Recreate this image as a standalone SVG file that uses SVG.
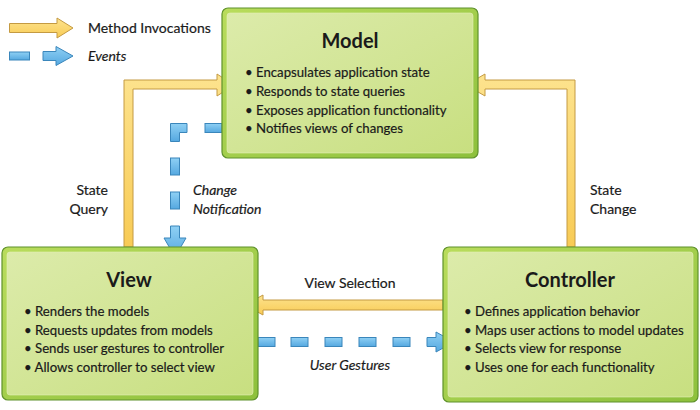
<svg xmlns="http://www.w3.org/2000/svg" width="700" height="410" viewBox="0 0 700 410">
<defs>
<linearGradient id="outerG" x1="0" y1="0" x2="1" y2="1">
<stop offset="0" stop-color="#b9dc5c"/>
<stop offset="1" stop-color="#8dc03c"/>
</linearGradient>
<linearGradient id="innerG" x1="0" y1="0" x2="1" y2="1">
<stop offset="0" stop-color="#dcebaa"/>
<stop offset="0.5" stop-color="#d2e596"/>
<stop offset="1" stop-color="#c8df80"/>
</linearGradient>
<linearGradient id="yel" x1="0" y1="0" x2="0" y2="1">
<stop offset="0" stop-color="#fde38e"/>
<stop offset="1" stop-color="#f8cb55"/>
</linearGradient>
<linearGradient id="blu" x1="0" y1="0" x2="0" y2="1">
<stop offset="0" stop-color="#8fd0f4"/>
<stop offset="1" stop-color="#55a8e0"/>
</linearGradient>
</defs>
<style>
.outer{fill:url(#outerG);stroke:#5f922c;stroke-width:1.2}
.inner{fill:url(#innerG);stroke:#e4f0b8;stroke-width:1;stroke-opacity:0.6}
.title{font-family:Lato,"Open Sans",sans-serif;font-weight:bold;font-size:20px;fill:#1a1a1a;text-anchor:middle}
.body{font-family:Lato,"Open Sans",sans-serif;font-size:13.2px;fill:#1a1a1a;stroke:#1a1a1a;stroke-width:0.2}
.lbl{font-family:Lato,"Open Sans",sans-serif;font-size:14px;fill:#1a1a1a;stroke:#1a1a1a;stroke-width:0.2}
.it{font-style:italic}
.y{fill:url(#yel);stroke:#c49a42;stroke-width:1;stroke-linejoin:miter}
.b{fill:url(#blu);stroke:#3a86bb;stroke-width:1}
</style>
<rect width="700" height="410" fill="#ffffff"/>

<g id="legend">
<polygon class="y" points="9.5,23.5 57,23.5 57,18 73,28 57,38 57,32.5 9.5,32.5"/>
<text class="lbl" x="88" y="33">Method Invocations</text>
<rect class="b" x="9.5" y="52" width="20" height="8"/>
<polygon class="b" points="43,51.5 56,51.5 56,46.5 73,56 56,65.5 56,60.5 43,60.5"/>
<text class="lbl it" x="88" y="61">Events</text>
</g>

<g id="connectors">
<polygon class="y" points="124,247 124,80 217,80 217,74 234,85 217,96 217,89 133,89 133,247"/>
<polygon class="y" points="575,247 575,80 485,80 485,74 466,85 485,96 485,89 567,89 567,247"/>
<polygon class="y" points="443,300 263,300 263,295 245,305 263,315 263,310 443,310"/>
<rect class="b" x="258" y="337.5" width="17" height="9"/>
<rect class="b" x="291" y="337.5" width="17" height="9"/>
<rect class="b" x="325" y="337.5" width="17" height="9"/>
<rect class="b" x="359" y="337.5" width="17" height="9"/>
<rect class="b" x="393" y="337.5" width="17" height="9"/>
<polygon class="b" points="427,337.5 436,337.5 436,332 454,342 436,352 436,346.5 427,346.5"/>
<rect class="b" x="205" y="123.5" width="17" height="9"/>
<polygon class="b" points="170.5,123.5 187,123.5 187,132.5 179.5,132.5 179.5,141.5 170.5,141.5"/>
<rect class="b" x="170.5" y="158" width="9" height="17"/>
<rect class="b" x="170.5" y="192" width="9" height="17"/>
<polygon class="b" points="170.5,226 179.5,226 179.5,238 186,238 175,257 164,238 170.5,238"/>
<text class="lbl" x="108" y="195" text-anchor="end">State</text>
<text class="lbl" x="108" y="214" text-anchor="end">Query</text>
<text class="lbl it" x="193" y="195">Change</text>
<text class="lbl it" x="193" y="214">Notification</text>
<text class="lbl" x="590" y="195">State</text>
<text class="lbl" x="590" y="214">Change</text>
<text class="lbl" x="350" y="288" text-anchor="middle">View Selection</text>
<text class="lbl it" x="350" y="370" text-anchor="middle">User Gestures</text>
</g>

<g id="model">
<rect class="outer" x="222" y="8" width="256" height="150" rx="6"/>
<rect class="inner" x="227" y="13" width="246" height="140" rx="3"/>
<text class="title" x="350" y="48">Model</text>
<text class="body" x="245" y="77">• Encapsulates application state</text>
<text class="body" x="245" y="96">• Responds to state queries</text>
<text class="body" x="245" y="115">• Exposes application functionality</text>
<text class="body" x="245" y="133">• Notifies views of changes</text>
</g>

<g id="view">
<rect class="outer" x="2" y="247" width="256" height="153" rx="6"/>
<rect class="inner" x="7" y="252" width="246" height="143" rx="3"/>
<text class="title" x="129" y="287">View</text>
<text class="body" x="24" y="316">• Renders the models</text>
<text class="body" x="24" y="335">• Requests updates from models</text>
<text class="body" x="24" y="353">• Sends user gestures to controller</text>
<text class="body" x="24" y="372">• Allows controller to select view</text>
</g>

<g id="controller">
<rect class="outer" x="443" y="247" width="255" height="155" rx="6"/>
<rect class="inner" x="448" y="252" width="245" height="145" rx="3"/>
<text class="title" x="570" y="287">Controller</text>
<text class="body" x="464" y="316">• Defines application behavior</text>
<text class="body" x="464" y="335">• Maps user actions to model updates</text>
<text class="body" x="464" y="353">• Selects view for response</text>
<text class="body" x="464" y="372">• Uses one for each functionality</text>
</g>
</svg>
